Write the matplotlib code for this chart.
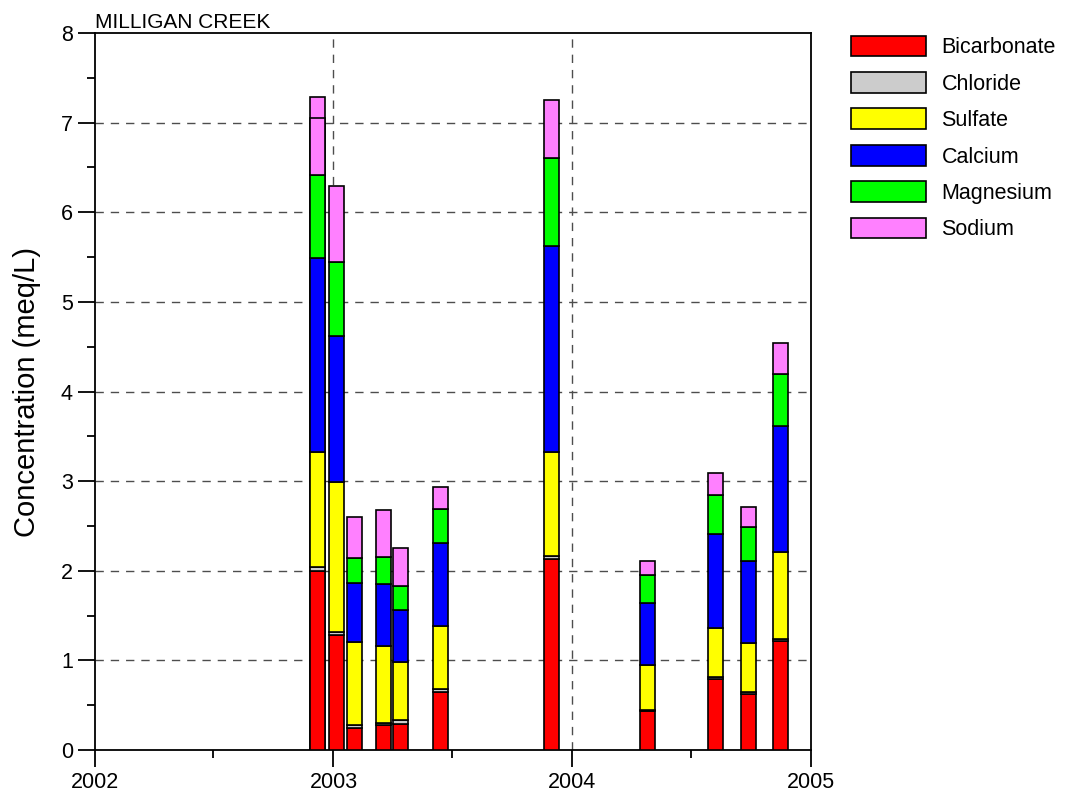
import numpy as np
import matplotlib
matplotlib.use("Agg")
import matplotlib.pyplot as plt
import matplotlib.dates as mdates
from matplotlib.patches import Patch
from datetime import date

plt.rcParams['font.family'] = ['Liberation Sans', 'DejaVu Sans']

# sample dates (two samples on the first date)
dates = ["2002-12-07", "2002-12-07", "2003-01-05", "2003-02-02", "2003-03-18",
         "2003-04-13", "2003-06-14", "2003-12-01", "2004-04-25", "2004-08-08",
         "2004-09-28", "2004-11-15"]

ions = ["Bicarbonate", "Chloride", "Sulfate", "Calcium", "Magnesium", "Sodium"]
colors = ["#ff0000", "#cccccc", "#ffff00", "#0000ff", "#00ff00", "#ff80ff"]

# concentrations (meq/L)
bicarbonate = [2.00, 2.00, 1.28, 0.25, 0.28, 0.29, 0.65, 2.13, 0.43, 0.79, 0.63, 1.22]
chloride    = [0.04, 0.04, 0.04, 0.03, 0.02, 0.04, 0.03, 0.03, 0.02, 0.02, 0.02, 0.02]
sulfate     = [1.28, 1.28, 1.67, 0.93, 0.86, 0.65, 0.70, 1.16, 0.50, 0.55, 0.54, 0.97]
calcium     = [2.17, 2.17, 1.63, 0.65, 0.69, 0.58, 0.93, 2.30, 0.69, 1.05, 0.92, 1.41]
magnesium   = [0.93, 0.93, 0.83, 0.28, 0.30, 0.27, 0.38, 0.99, 0.31, 0.44, 0.38, 0.58]
sodium      = [0.87, 0.63, 0.84, 0.46, 0.53, 0.42, 0.25, 0.64, 0.16, 0.24, 0.22, 0.34]

series = [bicarbonate, chloride, sulfate, calcium, magnesium, sodium]
x = mdates.date2num([date.fromisoformat(d) for d in dates])

fig = plt.figure(figsize=(10.69, 7.93), dpi=100)
ax = fig.add_axes([0.0889, 0.0542, 0.6698, 0.9042])

# grid
for yv in range(1, 8):
    ax.axhline(yv, color='0.3', lw=1, ls=(0, (6, 5)), zorder=1)
for yr in (2003, 2004):
    ax.axvline(mdates.date2num(date(yr, 1, 1)), color='0.3', lw=1, ls=(0, (6, 5)), zorder=1)

width = 23
for i in range(len(x)):
    bottom = 0
    for vals, c in zip(series, colors):
        ax.bar(x[i], vals[i], width=width, bottom=bottom, color=c,
               edgecolor='black', linewidth=1.2, zorder=3)
        bottom += vals[i]

ax.set_xlim(mdates.date2num(date(2002, 1, 1)), mdates.date2num(date(2005, 1, 1)))
ax.set_ylim(0, 8)
ax.xaxis.set_major_locator(mdates.YearLocator())
ax.xaxis.set_major_formatter(mdates.DateFormatter('%Y'))
ax.xaxis.set_minor_locator(mdates.MonthLocator(bymonth=7))
ax.set_yticks(np.arange(0, 9, 1))
ax.set_yticks(np.arange(0.5, 8, 1), minor=True)

ax.tick_params(which='major', direction='out', length=12, width=1.3, labelsize=15.5, pad=4)
ax.tick_params(which='minor', direction='out', length=6, width=1.3)
for s in ax.spines.values():
    s.set_linewidth(1.3)

ax.set_ylabel("Concentration (meq/L)", fontsize=21, labelpad=14)
ax.text(0.0, 1.002, "MILLIGAN CREEK", transform=ax.transAxes, fontsize=15,
        ha='left', va='bottom')

handles = [Patch(facecolor=c, edgecolor='black', linewidth=1.2) for c in colors]
fig.legend(handles, ions, loc='upper left', bbox_to_anchor=(0.788, 0.966),
           frameon=False, fontsize=15.5, handlelength=3.5, handleheight=1.1,
           labelspacing=0.64, handletextpad=0.7, borderaxespad=0)

fig.savefig("out.png", dpi=100)
